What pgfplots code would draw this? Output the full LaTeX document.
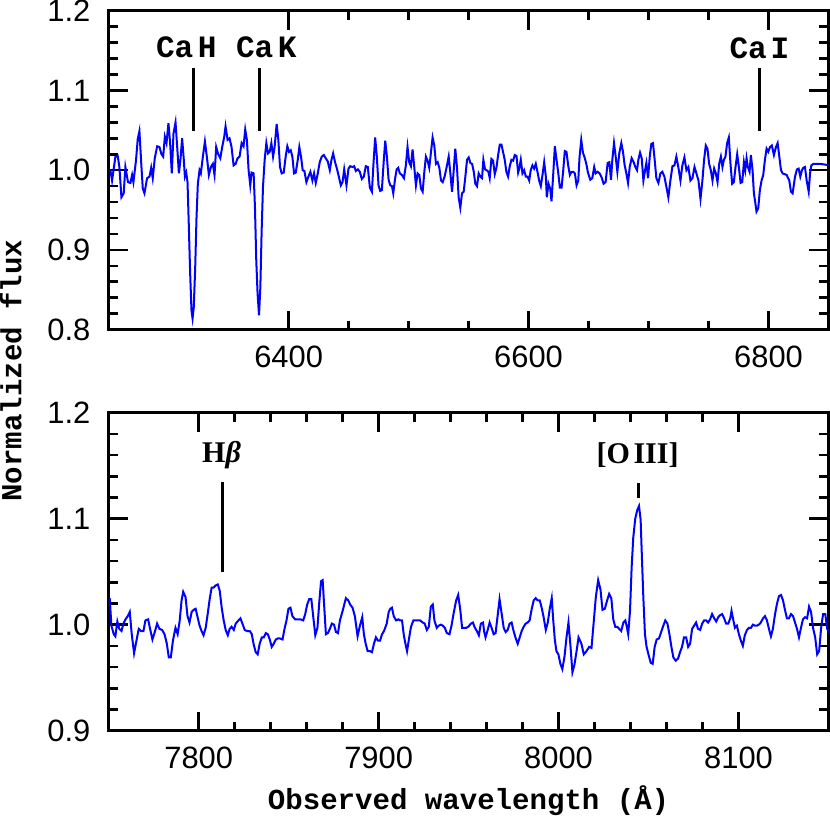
\documentclass[border=0pt]{standalone}
\usepackage{pgfplots}
\pgfplotsset{compat=1.18}
\usepackage{fontspec}
\setmainfont{Liberation Sans}
\newfontfamily\lmono{Liberation Mono}
\newfontfamily\lserif{Liberation Serif}
\pgfplotsset{
  myaxis/.style={
    scale only axis, width=359pt,
    axis line style={line width=1.5pt},
    major tick length=9.5pt, minor tick length=4.5pt,
    major tick style={black, line width=1.3pt},
    minor tick style={black, line width=1.3pt},
    tick align=inside,
    xtick pos=both, ytick pos=both,
    ticklabel style={font=\fontsize{15.4}{16}\selectfont, inner sep=0pt},
    xticklabel style={yshift=-8pt},
    yticklabel style={xshift=-9pt},
  },
  spec/.style={blue, line width=1pt, mark=none},
  marker/.style={black, line width=1.5pt, mark=none},
}
\begin{document}
\begin{tikzpicture}
\begin{axis}[myaxis, height=159pt, at={(0,0)},
  xmin=6250, xmax=6850, ymin=0.8, ymax=1.2,
  xtick={6400,6600,6800}, xticklabels={6400,6600,6800},
  minor x tick num=3,
  ytick={0.8,0.9,1.0,1.1,1.2}, yticklabels={0.8,0.9,1.0,1.1,1.2},
  minor y tick num=4]
\addplot[spec] table {
6251.4 1.000
6252.8 0.987
6255.6 1.017
6257.5 1.018
6258.9 1.004
6260.6 0.966
6262.5 0.971
6263.9 1.004
6266.1 0.985
6268.1 0.984
6269.5 0.994
6270.6 0.985
6272.8 1.013
6274.2 1.039
6275.6 1.049
6277.3 1.004
6278.4 0.977
6279.8 0.971
6282.0 0.990
6284.0 0.992
6285.4 1.003
6286.7 0.990
6288.4 1.015
6290.4 1.030
6292.3 1.029
6294.0 1.020
6295.4 1.017
6296.8 1.042
6298.2 1.034
6299.8 1.059
6301.2 1.034
6302.6 0.996
6304.0 1.046
6305.7 1.060
6307.1 1.029
6308.5 0.996
6309.8 1.013
6311.2 1.040
6312.6 1.013
6313.5 0.992
6314.6 0.997
6315.7 0.985
6316.8 0.929
6317.9 0.870
6319.0 0.824
6319.9 0.814
6320.9 0.828
6322.1 0.878
6323.2 0.941
6324.3 0.983
6325.7 1.000
6326.8 0.996
6328.5 1.017
6330.2 1.036
6331.8 1.017
6333.5 0.994
6335.2 1.004
6336.8 1.008
6338.2 0.994
6339.6 1.029
6341.3 1.020
6343.0 1.015
6344.6 1.029
6346.3 1.042
6347.4 1.055
6349.1 1.038
6350.7 1.040
6352.4 1.029
6354.1 1.006
6355.8 1.008
6357.4 1.015
6359.1 1.017
6360.8 1.034
6362.4 1.030
6363.8 1.051
6365.2 1.038
6366.6 1.000
6368.0 0.981
6369.1 0.997
6370.8 0.996
6371.9 0.954
6373.0 0.887
6374.1 0.845
6375.3 0.818
6376.4 0.853
6377.5 0.925
6378.6 0.979
6380.0 1.013
6381.4 1.034
6382.8 1.021
6384.2 1.023
6385.6 1.034
6387.0 1.017
6388.3 1.029
6390.0 1.058
6391.4 1.038
6392.8 1.004
6394.2 0.996
6395.9 0.997
6397.5 1.017
6398.9 1.030
6400.3 1.023
6401.7 1.025
6403.1 1.017
6404.5 0.996
6405.9 0.997
6407.6 1.013
6408.9 1.029
6410.3 1.017
6411.7 1.000
6413.1 0.999
6414.8 0.985
6416.5 0.992
6418.1 0.998
6419.8 0.987
6421.2 0.996
6422.6 0.984
6424.3 0.996
6425.9 1.010
6427.6 1.017
6429.3 1.019
6430.9 1.015
6432.6 1.011
6434.3 1.000
6435.7 1.013
6437.1 1.021
6438.7 1.010
6440.4 1.001
6443.5 0.981
6444.9 0.985
6446.3 1.001
6448.2 0.981
6449.9 1.002
6451.3 1.005
6453.2 1.004
6454.6 1.005
6456.0 0.999
6457.7 1.001
6459.3 0.998
6461.0 0.989
6462.7 0.992
6464.3 1.005
6466.0 1.004
6467.7 0.978
6469.4 0.973
6470.7 1.008
6472.1 1.041
6473.5 1.017
6474.9 0.981
6476.3 0.974
6477.7 0.975
6479.1 1.008
6480.5 1.037
6481.9 1.017
6483.3 0.988
6484.7 0.981
6486.1 0.980
6487.2 0.971
6488.6 0.988
6490.0 1.001
6491.3 1.003
6492.7 0.996
6494.4 0.994
6496.1 0.990
6497.7 1.006
6499.1 1.029
6500.5 1.010
6501.9 1.005
6503.3 1.026
6504.7 1.004
6506.1 0.981
6507.5 0.996
6508.9 0.994
6510.3 0.977
6511.7 0.973
6513.1 0.998
6514.4 1.017
6515.8 1.012
6517.2 1.003
6518.6 1.022
6520.0 1.041
6521.4 1.031
6522.8 1.008
6524.2 1.010
6525.6 1.003
6527.0 0.987
6528.4 0.985
6530.0 0.992
6531.7 1.004
6533.4 1.017
6534.8 0.996
6536.2 0.973
6537.5 0.998
6538.9 1.027
6540.3 1.004
6541.7 0.966
6543.1 0.953
6544.5 0.971
6545.9 0.973
6547.3 0.992
6548.7 1.013
6550.1 1.016
6551.5 1.009
6552.9 1.008
6554.3 0.998
6555.6 0.983
6557.0 0.980
6558.4 0.996
6559.8 0.992
6561.2 0.990
6562.3 1.013
6563.7 1.001
6565.1 1.000
6566.5 0.998
6567.6 0.990
6569.0 1.014
6570.4 1.012
6571.8 0.995
6573.2 1.003
6574.6 1.019
6576.0 1.032
6577.4 1.032
6578.7 1.023
6580.1 1.013
6581.5 0.998
6582.9 0.992
6584.3 1.005
6585.7 1.013
6587.1 1.012
6588.5 1.019
6589.9 1.018
6591.3 0.997
6592.4 1.003
6593.5 1.013
6594.9 0.996
6596.3 1.000
6597.7 0.992
6599.1 0.992
6600.5 0.987
6601.8 1.000
6603.2 1.006
6604.6 1.002
6606.0 1.008
6607.4 0.998
6608.8 0.987
6610.2 0.980
6611.6 0.994
6613.0 1.010
6614.4 0.992
6615.2 0.966
6616.6 0.983
6618.0 0.977
6619.1 0.961
6620.5 0.994
6621.9 1.030
6623.3 1.013
6624.7 0.997
6626.1 0.978
6627.5 0.978
6628.9 1.000
6630.2 1.024
6631.6 1.023
6633.0 1.006
6634.4 0.994
6635.8 0.998
6637.2 0.998
6638.6 0.996
6640.0 0.981
6641.4 0.987
6642.5 1.017
6643.9 1.038
6645.3 1.022
6646.7 1.016
6648.1 1.008
6649.5 0.997
6651.4 0.988
6653.1 0.990
6654.7 1.004
6655.9 0.996
6657.5 0.998
6659.2 0.996
6660.9 0.991
6662.5 0.983
6664.2 0.985
6665.9 1.009
6667.3 1.010
6668.7 0.988
6669.8 1.013
6671.2 1.034
6672.6 1.017
6674.0 0.998
6675.6 1.021
6677.3 1.034
6678.7 1.023
6680.1 1.006
6681.5 0.996
6682.9 0.984
6684.3 1.004
6685.9 1.015
6687.6 1.010
6689.0 1.004
6690.4 1.000
6691.5 1.013
6692.9 1.022
6694.3 1.015
6695.7 0.987
6697.1 1.000
6698.2 1.009
6699.6 0.990
6701.0 1.017
6702.3 1.033
6703.7 1.034
6705.1 1.013
6706.5 0.990
6708.2 0.984
6709.9 0.996
6711.5 0.998
6713.2 0.992
6714.9 0.979
6716.5 0.966
6718.2 0.987
6719.9 1.005
6721.6 1.006
6723.2 1.017
6724.9 1.003
6726.6 0.987
6728.2 1.006
6729.9 1.016
6731.6 1.000
6733.2 1.004
6734.9 0.987
6736.6 0.990
6738.3 1.004
6739.9 0.996
6741.6 0.987
6743.3 0.964
6744.9 0.987
6746.3 1.013
6747.7 1.031
6749.1 1.027
6750.5 1.008
6751.9 1.000
6753.3 0.987
6754.7 1.002
6756.1 0.996
6757.5 0.985
6758.9 1.008
6760.3 1.017
6761.6 1.004
6762.8 1.013
6764.1 1.017
6765.5 1.034
6766.9 1.041
6768.3 1.008
6769.7 0.983
6771.1 0.985
6772.5 1.004
6773.9 1.020
6775.3 1.004
6776.7 0.984
6778.1 0.985
6779.5 1.010
6780.6 1.000
6781.7 1.015
6782.8 1.004
6784.2 0.998
6785.3 1.019
6786.7 1.000
6787.8 0.971
6788.9 0.960
6790.0 0.948
6791.4 0.952
6792.8 0.975
6794.2 0.987
6795.6 0.994
6797.0 1.013
6798.4 1.027
6799.8 1.023
6801.2 1.029
6802.8 1.031
6804.5 1.019
6806.2 1.029
6807.6 1.034
6809.0 1.017
6810.4 1.000
6811.7 0.996
6813.4 0.995
6815.1 0.994
6817.3 0.987
6818.7 0.973
6820.1 0.971
6822.1 0.992
6823.7 1.001
6825.1 1.002
6826.5 0.992
6827.9 1.000
6829.0 1.003
6830.4 1.004
6831.8 0.987
6833.5 0.973
6834.6 0.996
6835.7 1.006
6837.4 1.008
6843.0 1.008
6851.3 1.006
};
\addplot[marker] coordinates {(6320.4,1.049) (6320.4,1.128)};
\addplot[marker] coordinates {(6375.3,1.049) (6375.3,1.128)};
\addplot[marker] coordinates {(6792.8,1.049) (6792.8,1.128)};
\node[anchor=base, inner sep=0pt, font=\lmono\bfseries\fontsize{15.5}{16}\selectfont] at (axis cs:6314.7,1.141) {Ca\hspace{0.15em}H};
\node[anchor=base, inner sep=0pt, font=\lmono\bfseries\fontsize{15.5}{16}\selectfont] at (axis cs:6381.4,1.141) {Ca\hspace{0.15em}K};
\node[anchor=base, inner sep=0pt, font=\lmono\bfseries\fontsize{15.5}{16}\selectfont] at (axis cs:6792.4,1.140) {Ca\hspace{0.12em}I};
\end{axis}

\begin{axis}[myaxis, height=158.5pt, at={(0,-200pt)},
  xmin=7750, xmax=8150, ymin=0.9, ymax=1.2,
  xtick={7800,7900,8000,8100}, xticklabels={7800,7900,8000,8100},
  minor x tick num=4,
  ytick={0.9,1.0,1.1,1.2}, yticklabels={0.9,1.0,1.1,1.2},
  minor y tick num=4]
\addplot[spec] table {
7750.0 1.024
7750.6 1.024
7751.5 0.999
7752.8 0.991
7753.7 0.989
7754.8 1.003
7755.9 0.996
7757.1 0.994
7758.2 1.001
7759.3 1.005
7760.6 1.008
7761.7 1.012
7762.8 0.991
7764.1 0.973
7765.2 0.983
7766.7 0.996
7768.0 0.994
7769.3 0.994
7770.4 1.004
7771.9 1.005
7773.0 0.996
7774.3 0.986
7775.6 0.993
7776.9 1.001
7778.2 0.996
7779.7 0.995
7781.0 0.991
7782.3 0.982
7783.4 0.969
7784.5 0.969
7785.7 0.985
7787.1 0.997
7788.3 0.991
7789.4 1.003
7790.5 1.023
7791.4 1.031
7792.7 1.026
7793.8 1.008
7794.9 1.002
7796.1 1.012
7797.2 1.014
7798.3 1.015
7799.4 1.007
7800.5 0.999
7801.6 0.994
7802.7 0.990
7803.9 0.997
7805.0 1.010
7806.1 1.024
7807.2 1.035
7808.3 1.035
7809.4 1.037
7810.6 1.038
7811.7 1.032
7812.8 1.016
7813.9 1.004
7815.0 0.995
7816.2 0.990
7817.2 0.996
7818.3 0.998
7819.5 0.995
7820.6 1.001
7822.1 1.004
7823.2 1.006
7824.3 1.001
7825.6 0.995
7826.9 0.994
7828.4 0.994
7829.5 0.991
7830.6 0.981
7831.7 0.974
7832.8 0.972
7833.9 0.982
7835.1 0.988
7836.2 0.988
7837.3 0.992
7838.4 0.991
7839.5 0.986
7840.6 0.979
7841.7 0.982
7842.9 0.986
7844.0 0.987
7845.1 0.987
7846.6 0.986
7847.7 0.996
7848.8 1.004
7849.9 1.015
7851.0 1.016
7852.1 1.008
7853.6 1.005
7855.1 1.005
7856.6 1.005
7858.1 1.004
7859.2 1.010
7860.3 1.019
7861.4 1.024
7862.6 1.024
7863.7 1.007
7864.8 0.990
7866.0 0.997
7867.1 1.023
7868.0 1.041
7868.9 1.042
7869.8 1.016
7870.7 0.991
7871.8 0.992
7872.9 0.996
7874.0 1.001
7875.2 1.000
7876.3 0.993
7877.4 0.992
7878.5 1.004
7880.0 1.013
7881.8 1.025
7883.1 1.023
7884.2 1.019
7885.5 1.016
7886.8 1.008
7888.3 0.989
7889.6 0.999
7890.9 1.007
7891.8 0.991
7892.8 0.982
7893.9 0.975
7895.2 0.975
7896.3 0.974
7897.4 0.982
7898.5 0.988
7899.6 0.985
7900.8 0.985
7901.9 0.991
7903.0 0.994
7904.5 1.001
7905.6 1.012
7906.5 1.015
7907.4 1.016
7908.4 1.008
7909.7 1.004
7911.0 1.005
7911.9 1.004
7913.0 1.004
7914.0 0.990
7914.9 0.982
7915.8 0.975
7917.0 0.988
7918.0 0.998
7919.3 1.004
7920.4 1.004
7921.7 1.004
7923.1 1.004
7924.5 1.002
7925.6 1.001
7926.8 0.995
7927.9 0.998
7929.0 1.017
7930.1 1.019
7931.0 1.004
7932.3 0.997
7933.4 0.999
7934.6 1.000
7935.7 0.999
7936.8 0.997
7937.9 0.992
7939.4 0.991
7940.5 0.999
7941.6 1.010
7943.1 1.023
7944.2 1.028
7945.3 1.015
7946.4 0.997
7947.6 0.997
7948.7 0.997
7949.8 0.998
7951.3 1.001
7952.4 1.002
7953.5 0.997
7954.6 0.994
7955.7 0.990
7956.8 1.001
7958.0 1.002
7958.7 0.993
7959.4 0.988
7960.6 0.995
7961.7 1.002
7962.8 0.997
7963.9 0.991
7965.0 0.992
7966.1 1.008
7967.2 1.024
7968.4 1.010
7969.5 0.997
7970.6 0.993
7971.7 0.995
7972.8 1.001
7973.9 1.002
7975.0 0.994
7976.2 0.987
7977.3 0.982
7978.4 0.988
7979.5 0.994
7980.6 0.998
7981.7 1.001
7982.8 1.002
7983.9 1.004
7985.1 1.015
7986.2 1.023
7987.3 1.025
7988.3 1.023
7989.5 1.023
7990.6 1.016
7991.7 1.007
7992.9 0.995
7994.0 1.002
7995.1 1.015
7996.2 1.025
7997.0 1.005
7997.9 0.986
7998.8 0.975
7999.9 0.972
8001.0 0.963
8002.1 0.958
8003.3 0.970
8004.4 0.988
8005.5 1.002
8006.6 0.980
8007.7 0.955
8008.8 0.962
8010.0 0.975
8011.1 0.988
8012.7 0.982
8014.0 0.972
8015.5 0.975
8017.0 0.979
8018.3 0.978
8019.6 1.004
8020.7 1.026
8022.0 1.042
8023.3 1.033
8024.4 1.014
8025.7 1.015
8027.0 1.023
8028.1 1.029
8029.3 1.025
8030.4 1.005
8031.5 0.998
8032.6 0.998
8033.7 0.996
8034.8 0.994
8036.0 1.002
8037.1 1.004
8037.8 0.999
8038.7 0.991
8039.7 1.013
8040.6 1.054
8041.5 1.082
8042.6 1.100
8043.7 1.108
8044.7 1.112
8045.6 1.099
8046.3 1.064
8047.1 1.026
8048.0 0.991
8048.9 0.979
8050.1 0.971
8051.2 0.964
8052.3 0.963
8053.4 0.979
8054.5 0.986
8055.8 0.987
8057.0 0.993
8058.2 0.999
8059.3 1.004
8060.5 1.001
8061.6 0.991
8062.7 0.979
8063.8 0.969
8065.1 0.966
8066.4 0.968
8067.5 0.974
8068.6 0.979
8069.7 0.988
8070.9 0.988
8072.0 0.979
8073.1 0.982
8074.2 0.996
8075.3 0.999
8076.4 1.002
8077.5 0.996
8078.7 0.995
8079.8 1.001
8080.9 1.004
8082.0 1.004
8083.1 1.002
8084.2 1.005
8085.3 1.010
8086.5 1.006
8087.6 1.003
8088.7 1.007
8089.8 1.009
8090.9 1.010
8092.0 1.006
8093.1 1.001
8094.3 1.001
8095.4 1.006
8096.1 1.013
8096.9 1.006
8098.0 0.997
8099.1 0.999
8100.2 0.991
8101.3 0.985
8102.4 0.980
8103.5 0.990
8104.7 0.995
8105.8 0.997
8106.9 0.997
8108.0 1.000
8109.1 0.999
8110.2 0.999
8111.3 1.000
8112.4 1.002
8113.6 1.006
8114.7 1.008
8115.8 1.004
8116.9 0.996
8118.0 0.989
8119.1 0.996
8120.3 1.010
8121.4 1.020
8122.5 1.027
8123.6 1.028
8124.7 1.023
8125.8 1.014
8126.9 1.006
8128.0 1.006
8129.2 1.010
8130.3 1.008
8131.4 1.002
8132.5 0.996
8133.6 0.988
8134.7 0.997
8135.8 1.005
8137.0 1.007
8138.1 1.006
8139.2 1.017
8140.3 1.012
8141.4 0.997
8142.6 0.988
8143.7 0.972
8144.8 0.975
8145.9 0.997
8147.0 1.010
8148.2 1.010
8149.3 0.996
8150.5 0.992
};
\addplot[marker] coordinates {(7813.1,1.050) (7813.1,1.135)};
\addplot[marker] coordinates {(8044.3,1.120) (8044.3,1.134)};
\node[anchor=base, inner sep=0pt, font=\lserif\bfseries\fontsize{15}{16}\selectfont] at (axis cs:7812.7,1.153) {H{\itshape β}};
\node[anchor=base, inner sep=0pt, font=\lserif\bfseries\fontsize{15}{16}\selectfont] at (axis cs:8043.9,1.152) {[O\hspace{0.12em}III]};
\end{axis}

\node[rotate=90, anchor=base, inner sep=0pt, font=\lmono\bfseries\fontsize{14.5}{16}\selectfont] at (-43.5pt,-20.5pt) {Normalized flux};
\node[anchor=base, inner sep=0pt, font=\lmono\bfseries\fontsize{14.5}{16}\selectfont] at (179.5pt,-239.5pt) {Observed wavelength (Å)};
\end{tikzpicture}
\end{document}
